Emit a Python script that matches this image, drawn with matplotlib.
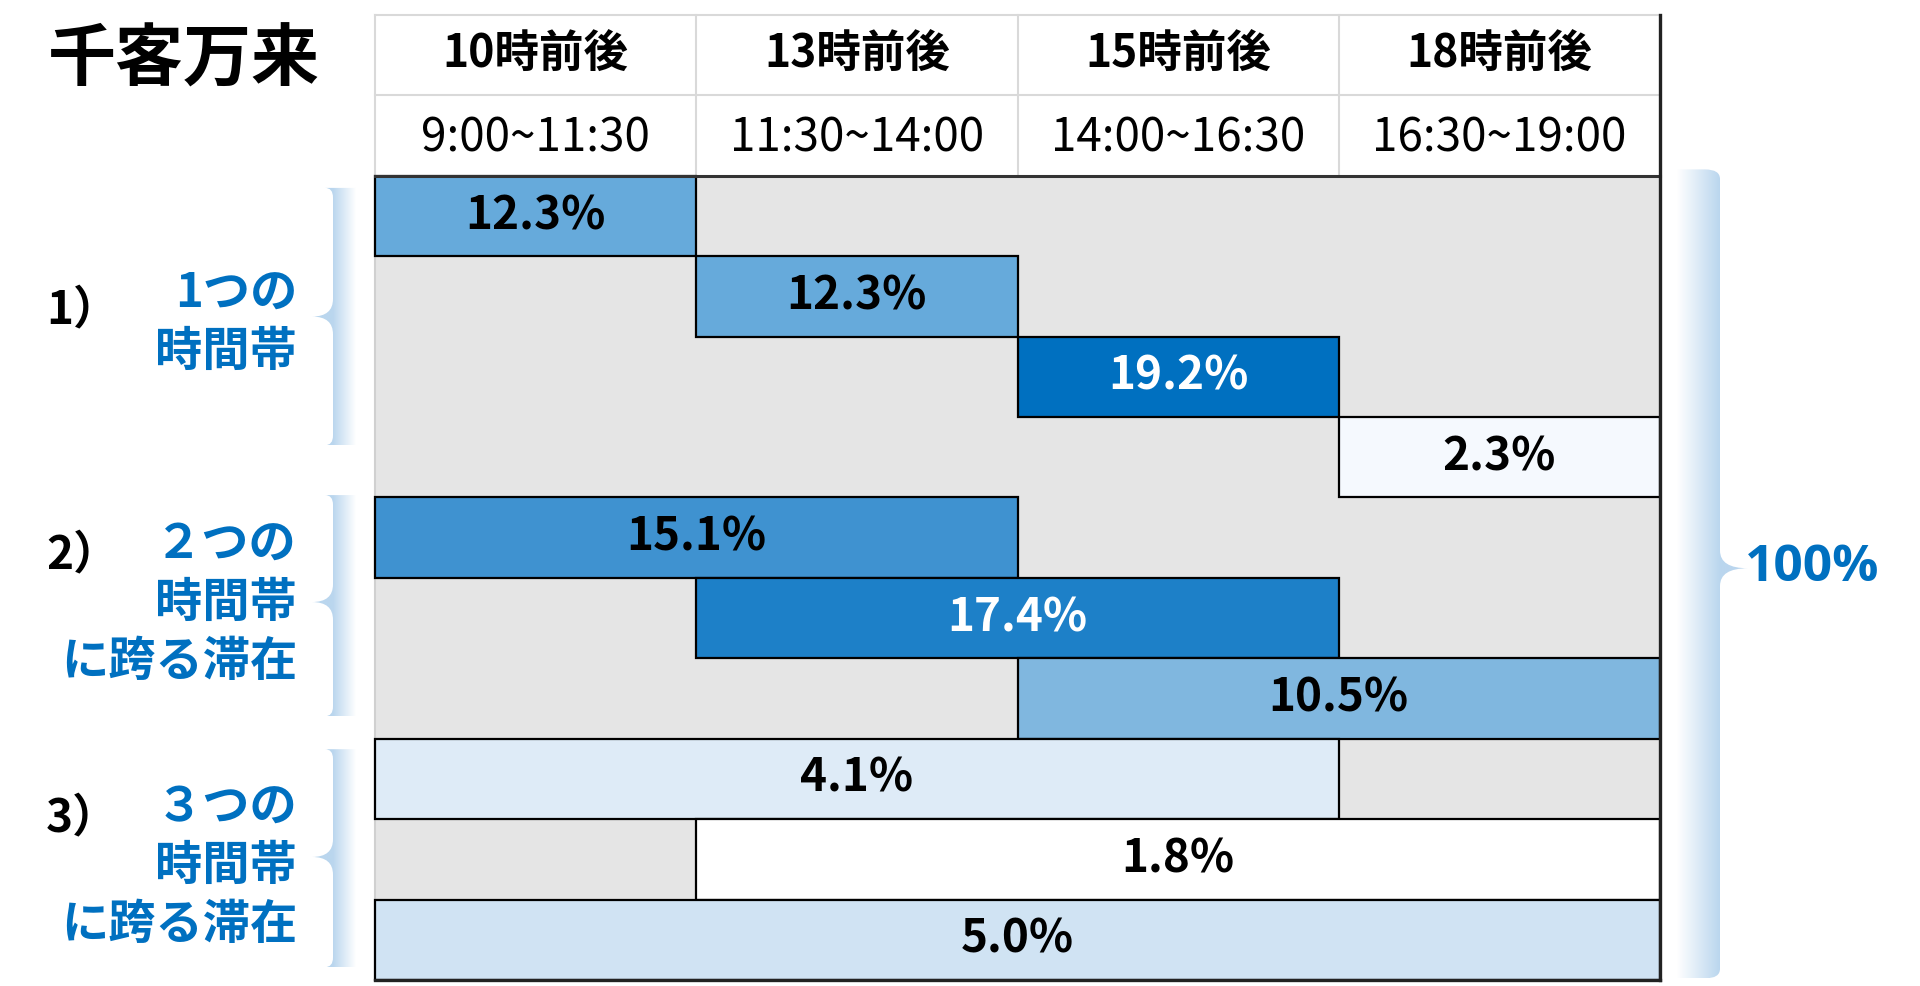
import numpy as np
import matplotlib.pyplot as plt
from matplotlib.patches import Rectangle, PathPatch
from matplotlib.path import Path
from matplotlib.colors import LinearSegmentedColormap

plt.rcParams['font.family'] = ['Noto Sans CJK JP', 'DejaVu Sans']

# --- data ---
title = "千客万来"
period_names = ["10時前後", "13時前後", "15時前後", "18時前後"]
period_ranges = ["9:00~11:30", "11:30~14:00", "14:00~16:30", "16:30~19:00"]

shares = [12.3, 12.3, 19.2, 2.3, 15.1, 17.4, 10.5, 4.1, 1.8, 5.0]
span_start = [0, 1, 2, 3, 0, 1, 2, 0, 1, 0]
span_end = [1, 2, 3, 4, 2, 3, 4, 3, 4, 4]
cell_colors = ["#66aadb", "#66aadb", "#0070c0", "#f5f9fe", "#3f92d0",
               "#1d80c8", "#80b7df", "#deebf7", "#ffffff", "#d0e3f3"]
text_colors = ["black", "black", "white", "black", "black",
               "white", "black", "black", "black", "black"]

group_nums = ["1）", "2）", "3）"]
group_labels = [["1つの", "時間帯"],
                ["２つの", "時間帯", "に跨る滞在"],
                ["３つの", "時間帯", "に跨る滞在"]]
total_label = "100%"

BLUE = "#0070c0"
GREY = "#e5e5e5"

# --- layout (pixels of the 1920x986 canvas) ---
W, H = 1920, 986
tab_left, tab_right = 375, 1660
tab_top, tab_bottom = 15, 980
n_cols, n_rows = 4, 10
col_w = (tab_right - tab_left) / n_cols
row_h = (tab_bottom - tab_top) / (n_rows + 2)

fig = plt.figure(figsize=(W / 100, H / 100), dpi=100)
ax = fig.add_axes([0, 0, 1, 1])
ax.axis("off")

# background of the data area
ax.add_patch(Rectangle((0, 0), n_cols, n_rows, facecolor=GREY, edgecolor="none", zorder=1))
ax.add_patch(Rectangle((0, -2), n_cols, 2, facecolor="white", edgecolor="none", zorder=1))

# header grid
for y in (-2, -1):
    ax.plot([0, n_cols], [y, y], color="#d9d9d9", lw=1.5, zorder=2)
for x in range(n_cols):
    ax.plot([x, x], [-2, 0], color="#d9d9d9", lw=1.5, zorder=2)
ax.plot([0, 0], [0, n_rows], color="#d0d0d0", lw=1.5, zorder=2)

for i, (nm, rg) in enumerate(zip(period_names, period_ranges)):
    ax.text(i + 0.5, -1.5, nm, ha="center", va="center", fontsize=32,
            fontweight="bold", zorder=5)
    ax.text(i + 0.5, -0.47, rg, ha="center", va="center", fontsize=33, zorder=5)

# data cells
for r, (v, s, e, fc, tc) in enumerate(zip(shares, span_start, span_end, cell_colors, text_colors)):
    ax.add_patch(Rectangle((s, r), e - s, 1, facecolor=fc, edgecolor="black", lw=1.6, zorder=3))
    ax.text((s + e) / 2, r + 0.5, f"{v:.1f}%", ha="center", va="center", fontsize=33,
            fontweight="bold", color=tc, zorder=5)

# outer borders
ax.plot([0, n_cols], [0, 0], color="#333333", lw=2.2, zorder=4)
ax.plot([n_cols, n_cols], [-2, n_rows], color="#222222", lw=2.4, zorder=4)
ax.plot([0, n_cols], [n_rows, n_rows], color="#222222", lw=2.4, zorder=4)


def bracket(x_blue, x_white, tip, y0, y1, ymid):
    # brace-like strip with a blue-to-white gradient and a tapered pointer
    dx = x_blue - x_white
    rx, ry, h = dx * 0.35, 0.12, 0.22
    verts = [(x_white, y0), (x_blue - rx * np.sign(dx), y0), (x_blue, y0), (x_blue, y0 + ry),
             (x_blue, ymid - h), (x_blue, ymid), (tip, ymid),
             (x_blue, ymid), (x_blue, ymid + h),
             (x_blue, y1 - ry), (x_blue, y1), (x_blue - rx * np.sign(dx), y1),
             (x_white, y1), (x_white, y0)]
    codes = [Path.MOVETO, Path.LINETO, Path.CURVE3, Path.CURVE3,
             Path.LINETO, Path.CURVE3, Path.CURVE3,
             Path.CURVE3, Path.CURVE3,
             Path.LINETO, Path.CURVE3, Path.CURVE3,
             Path.LINETO, Path.CLOSEPOLY]
    patch = PathPatch(Path(verts, codes), facecolor="none", edgecolor="none")
    ax.add_patch(patch)
    xs = np.linspace(min(tip, x_white), max(tip, x_white), 300)
    vals = np.clip((xs - x_white) / (x_blue - x_white), 0, 1)
    cmap = LinearSegmentedColormap.from_list("br", ["#ffffff", "#bad6ee"])
    im = ax.imshow(vals[None, :], cmap=cmap, vmin=0, vmax=1, aspect="auto",
                   extent=(xs[0], xs[-1], y1, y0), interpolation="bilinear", zorder=2)
    im.set_clip_path(patch)


def px_x(p):
    return (p - tab_left) / col_w


def px_y(p):
    return (p - tab_top) / row_h - 2


# left brackets + labels
left_spans = [(0.15, 3.35, 1.75), (3.97, 6.72, 5.3), (7.13, 9.84, 8.47)]
label_top = [1.45, 4.57, 7.84]
line_step = 0.74
num_y = [1.67, 4.72, 7.99]
for (a, b, m), lines, ly, num, ny in zip(left_spans, group_labels, label_top, group_nums, num_y):
    bracket(px_x(333), px_x(356), px_x(312), a, b, m)
    for k, line in enumerate(lines):
        ax.text(px_x(297), ly + k * line_step, line, ha="right", va="center",
                fontsize=34, fontweight="bold", color=BLUE, zorder=5)
    ax.text(px_x(46), ny, num, ha="left", va="center", fontsize=33,
            fontweight="bold", color="black", zorder=5)

# right bracket + total
bracket(px_x(1720), px_x(1677), px_x(1748), -0.08, 9.98, 4.88)
ax.text(px_x(1745), 4.88, total_label, ha="left", va="center", fontsize=37,
        fontweight="bold", color=BLUE, family=['Open Sans', 'DejaVu Sans'], zorder=5)

# title
ax.text(px_x(184), px_y(61), title, ha="center", va="center", fontsize=49,
        fontweight="bold", color="black", zorder=5)

ax.set_xlim(px_x(0), px_x(W))
ax.set_ylim(px_y(H), px_y(0))

fig.savefig("out.png", dpi=100)
